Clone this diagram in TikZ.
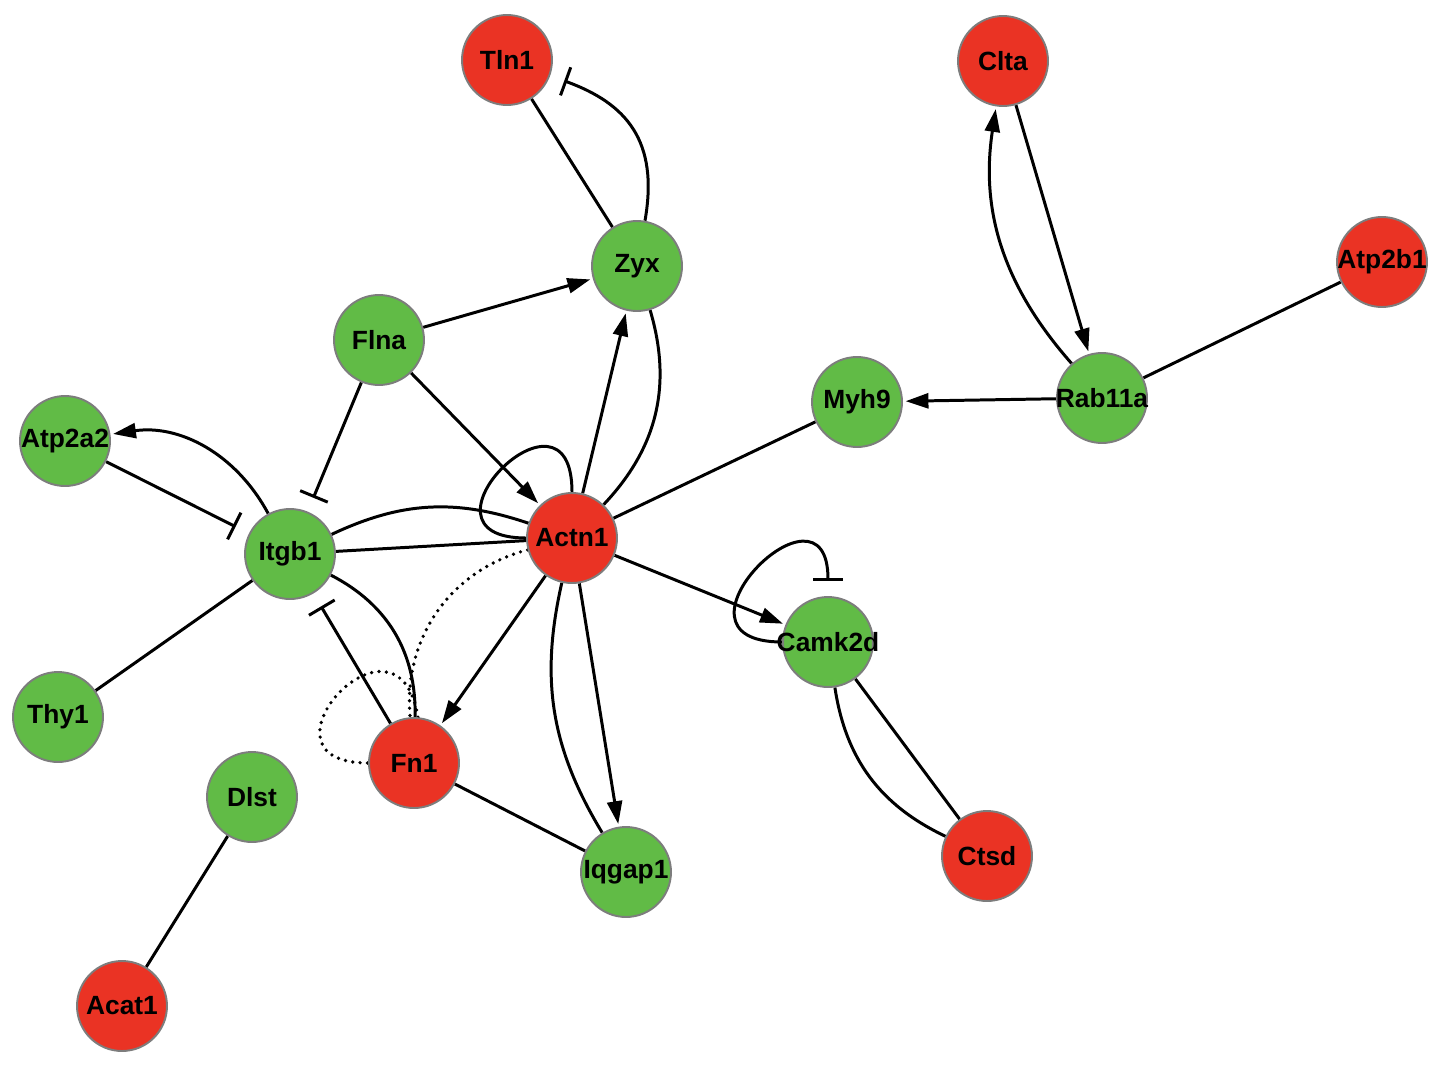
\documentclass[tikz,border=0pt]{standalone}
\usepackage{fontspec}
\setmainfont{Liberation Sans}
\usetikzlibrary{arrows.meta,backgrounds}
\definecolor{gred}{RGB}{234,51,36}
\definecolor{ggreen}{RGB}{97,187,70}
\definecolor{gborder}{RGB}{125,125,125}
\begin{document}
\begin{tikzpicture}[x=0.02cm,y=-0.02cm,
  gene/.style={circle,draw=gborder,line width=1.1pt,minimum size=1.8cm,inner sep=0pt},
  lbl/.style={inner sep=0pt,font=\fontsize{15}{18}\selectfont\bfseries,text=black},
  upg/.style={gene,fill=gred,label={[lbl]center:#1}},
  downg/.style={gene,fill=ggreen,label={[lbl]center:#1}},
  link/.style={line width=1.7pt,draw=black},
  act/.style={link,-{Triangle[length=13pt,width=8.5pt]},shorten >=1.5pt},
  inh/.style={link,-{Bar[width=17pt]},shorten >=8.5pt},
  dots/.style={link,line width=2.1pt,line cap=round,dash pattern=on 0pt off 4.2pt}]
\useasboundingbox (0,0) rectangle (1441,1065);
% nodes
\node[upg=Tln1]     (Tln1)   at (507,60)   {};
\node[upg=Clta]     (Clta)   at (1003,61)  {};
\node[downg=Zyx]    (Zyx)    at (637,266)  {};
\node[downg=Flna]   (Flna)   at (379,340)  {};
\node[upg=Atp2b1]   (Atp2b1) at (1382,262) {};
\node[downg=Rab11a] (Rab11a) at (1102,398) {};
\node[downg=Myh9]   (Myh9)   at (857,402)  {};
\node[downg=Atp2a2] (Atp2a2) at (65,441)   {};
\node[downg=Itgb1]  (Itgb1)  at (290,554)  {};
\node[upg=Actn1]    (Actn1)  at (572,538)  {};
\node[downg=Camk2d] (Camk2d) at (828,642)  {};
\node[downg=Thy1]   (Thy1)   at (58,717)   {};
\node[downg=Dlst]   (Dlst)   at (252,797)  {};
\node[upg=Fn1]      (Fn1)    at (414,763)  {};
\node[downg=Iqgap1] (Iqgap1) at (626,872)  {};
\node[upg=Ctsd]     (Ctsd)   at (987,856)  {};
\node[upg=Acat1]    (Acat1)  at (122,1006) {};
% edges
\begin{pgfonlayer}{background}
\draw[link] (Zyx) -- (Tln1);
\draw[inh] (Zyx) to[out=80,in=-20,looseness=1.2] (Tln1);
\draw[act] (Flna) -- (Zyx);
\draw[act] (Actn1) -- (Zyx);
\draw[link] (Zyx) to[bend left=30] (Actn1);
\draw[act] (Flna) -- (Actn1);
\draw[inh] (Flna) -- (Itgb1);
\draw[link] (Actn1.north) .. controls +(0,-125) and +(-125,0) .. (Actn1.west);
\draw[link] (Itgb1) to[bend left=22] (Actn1);
\draw[link] (Itgb1) -- (Actn1);
\draw[dots] (Actn1) to[bend right=40] (Fn1);
\draw[dots] (Fn1.85) .. controls +(-20,-125) and +(-125,0) .. (Fn1.west);
\draw[link] (Itgb1) to[bend left=32] (Fn1);
\draw[inh] (Fn1) -- (Itgb1);
\draw[act] (Actn1) -- (Fn1);
\draw[inh] (Atp2a2) -- (Itgb1);
\draw[act] (Itgb1) to[bend right=35] (Atp2a2);
\draw[link] (Thy1) -- (Itgb1);
\draw[link] (Actn1) -- (Myh9);
\draw[act] (Rab11a) -- (Myh9);
\draw[act] (Rab11a) to[bend left=25] (Clta);
\draw[act] (Clta) -- (Rab11a);
\draw[link] (Atp2b1) -- (Rab11a);
\draw[act] (Actn1) -- (Camk2d);
\draw[inh] (Camk2d.west) .. controls +(-130,0) and +(0,-130) .. (Camk2d.north);
\draw[link] (Camk2d) -- (Ctsd);
\draw[link] (Camk2d) to[bend right=28] (Ctsd);
\draw[act] (Actn1) -- (Iqgap1);
\draw[link] (Actn1) to[bend right=22] (Iqgap1);
\draw[link] (Fn1) -- (Iqgap1);
\draw[link] (Dlst) -- (Acat1);
\end{pgfonlayer}
\end{tikzpicture}
\end{document}
